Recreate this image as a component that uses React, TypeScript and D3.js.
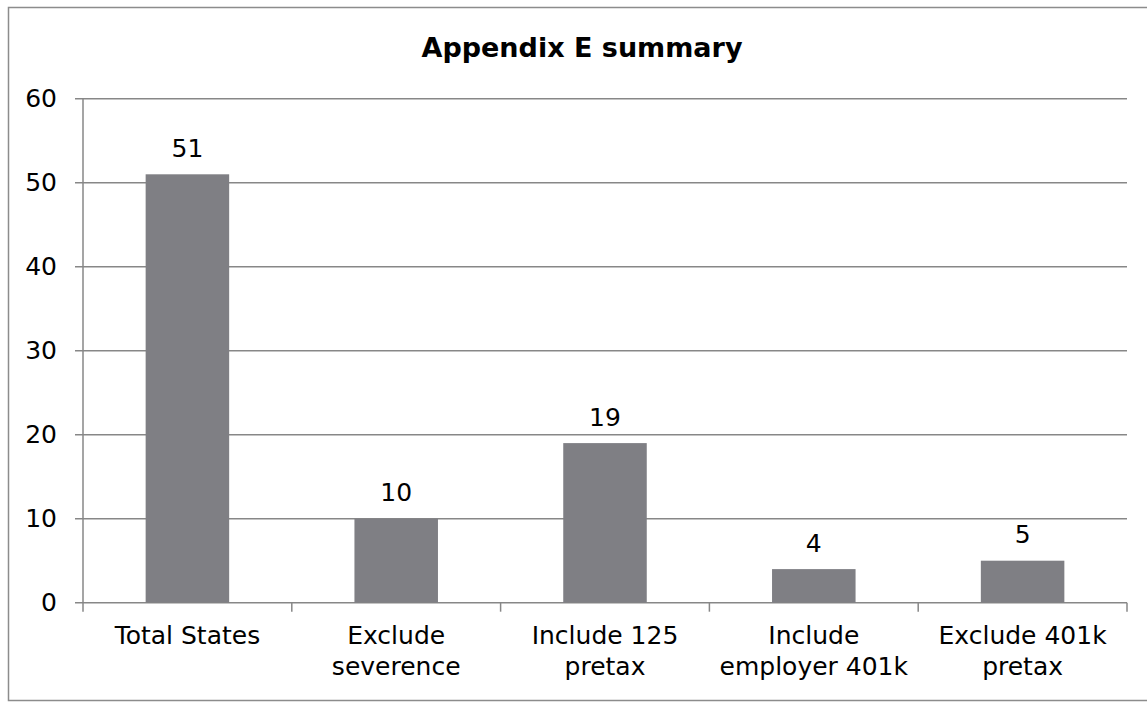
import React from "react";
import * as d3 from "d3";

const categories: string[][] = [
  ["Total States"],
  ["Exclude", "severence"],
  ["Include 125", "pretax"],
  ["Include", "employer 401k"],
  ["Exclude 401k", "pretax"],
];
const values: number[] = [51, 10, 19, 4, 5];
const yTicks: number[] = [0, 10, 20, 30, 40, 50, 60];
const title = "Appendix E summary";

const W = 1147;
const H = 702;
const left = 83;
const right = 1127;
const top = 98.7;
const bottom = 602.7;
const FONT = "'DejaVu Sans', sans-serif";
const GRID = "#878787";
const FS = 25;

export default function App() {
  const keys = categories.map((_, i) => String(i));
  const x = d3
    .scaleBand<string>()
    .domain(keys)
    .range([left, right])
    .paddingInner(0.6)
    .paddingOuter(0.3);
  const y = d3.scaleLinear().domain([0, 60]).range([bottom, top]);
  const step = (right - left) / categories.length;
  const boundaries = d3.range(categories.length + 1).map((i) => left + i * step);

  return (
    <svg
      width={W}
      height={H}
      style={{ position: "absolute", left: 0, top: 0, background: "#fff" }}
    >
      <rect x={0} y={0} width={W} height={H} fill="#fff" />
      <rect
        x={8.5}
        y={7.5}
        width={1142}
        height={693}
        fill="#fff"
        stroke="#8c8c8c"
        strokeWidth={1.5}
      />
      <text
        x={582}
        y={57}
        textAnchor="middle"
        fontFamily={FONT}
        fontWeight="bold"
        fontSize={27}
        fill="#000"
      >
        {title}
      </text>
      {yTicks.map((t) => (
        <g key={t}>
          <line
            x1={left - 8}
            x2={right}
            y1={y(t)}
            y2={y(t)}
            stroke={GRID}
            strokeWidth={1.5}
          />
          <text
            x={57}
            y={y(t) + 8.5}
            textAnchor="end"
            fontFamily={FONT}
            fontSize={FS}
            fill="#000"
          >
            {t}
          </text>
        </g>
      ))}
      <line x1={left} x2={left} y1={top} y2={bottom} stroke={GRID} strokeWidth={1.5} />
      {boundaries.map((b, i) => (
        <line
          key={i}
          x1={b}
          x2={b}
          y1={bottom}
          y2={bottom + 9}
          stroke={GRID}
          strokeWidth={1.5}
        />
      ))}
      {values.map((v, i) => (
        <g key={i}>
          <rect
            x={x(keys[i])!}
            y={y(v)}
            width={x.bandwidth()}
            height={y(0) - y(v)}
            fill="#7f7f84"
          />
          <text
            x={x(keys[i])! + x.bandwidth() / 2}
            y={y(v) - 17.5}
            textAnchor="middle"
            fontFamily={FONT}
            fontSize={FS}
            fill="#000"
          >
            {v}
          </text>
        </g>
      ))}
      {categories.map((lines, i) => (
        <text
          key={i}
          x={x(keys[i])! + x.bandwidth() / 2}
          textAnchor="middle"
          fontFamily={FONT}
          fontSize={FS}
          fill="#000"
        >
          {lines.map((l, j) => (
            <tspan key={j} x={x(keys[i])! + x.bandwidth() / 2} y={644 + j * 31}>
              {l}
            </tspan>
          ))}
        </text>
      ))}
    </svg>
  );
}
